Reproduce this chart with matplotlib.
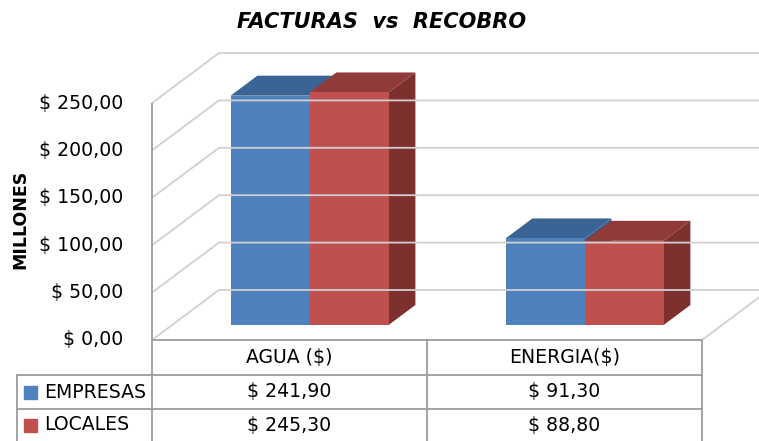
import numpy as np
import matplotlib.pyplot as plt
from matplotlib.patches import Polygon

categories = ['AGUA ($)', 'ENERGIA($)']
series = ['EMPRESAS', 'LOCALES']
empresas = [241.90, 91.30]
locales = [245.30, 88.80]
table_text = [['$ 241,90', '$ 91,30'], ['$ 245,30', '$ 88,80']]
yticks = [0, 50, 100, 150, 200, 250]
ytick_labels = ['$ 0,00', '$ 50,00', '$ 100,00', '$ 150,00', '$ 200,00', '$ 250,00']

front_cols = ['#4F81BD', '#C0504D']
top_cols = ['#3B6496', '#8E3B39']
side_cols = ['#3A5F8B', '#7D302E']
grid_col = '#D0D0D0'
line_col = '#9C9C9C'
fs = 13.6

W, H = 759, 441
fig = plt.figure(figsize=(W / 100, H / 100), dpi=100)

# front plane of the 3d box in pixels: x 152..702, y 340..103
x0, x1, yb, yt = 152, 702, 340, 103
ax = fig.add_axes([x0 / W, 1 - yb / H, (x1 - x0) / W, (yb - yt) / H])
ax.set_xlim(0, 2)
ax.set_ylim(0, 250)
ax.axis('off')

# depth offset (full depth) in pixels -> data units
dpx, dpy = 67, 50
kx = dpx / ((x1 - x0) / 2)
ky = dpy / ((yb - yt) / 250)

def proj(x, v, d):
    return (x + d * kx, v + d * ky)

def line(pts, **kw):
    xs, ys = zip(*pts)
    ax.plot(xs, ys, clip_on=False, solid_capstyle='butt', **kw)

# walls
for v in yticks:
    line([proj(0, v, 0), proj(0, v, 1), proj(2.2, v, 1)], color=grid_col, lw=1.3)
line([proj(2, 0, 0), proj(2, 0, 1)], color=grid_col, lw=1.3)
line([(0, 0), (0, 250)], color=line_col, lw=1.3)
line([(0, 0), (2, 0)], color=line_col, lw=1.3)

lab_x = -(x0 - 123) / ((x1 - x0) / 2)
for v, lab in zip(yticks, ytick_labels):
    ax.text(lab_x, v, lab, ha='right', va='center', fontsize=fs, color='black')

# 3d bars
bw = 0.2873
d0, d1 = 0.3, 0.7
for i in range(len(categories)):
    c = i + 0.5
    for j, vals in enumerate([empresas, locales]):
        h = vals[i]
        xa = c - bw + j * bw
        xb = xa + bw
        side = [proj(xb, 0, d0), proj(xb, 0, d1), proj(xb, h, d1), proj(xb, h, d0)]
        top = [proj(xa, h, d0), proj(xa, h, d1), proj(xb, h, d1), proj(xb, h, d0)]
        front = [proj(xa, 0, d0), proj(xb, 0, d0), proj(xb, h, d0), proj(xa, h, d0)]
        for pts, col in [(side, side_cols[j]), (top, top_cols[j]), (front, front_cols[j])]:
            ax.add_patch(Polygon(pts, closed=True, facecolor=col, edgecolor='none', clip_on=False))

# data table (figure pixel coordinates)
def P(x, y):
    return (x / W, 1 - y / H)

def fline(a, b):
    fig.add_artist(plt.Line2D([a[0] / W, b[0] / W], [1 - a[1] / H, 1 - b[1] / H],
                              color=line_col, lw=1.3))

rows_y = [340, 375, 409, 441]
fline((152, 340), (152, 441))
fline((427, 340), (427, 441))
fline((702, 340), (702, 441))
fline((17, 375), (17, 441))
fline((17, 375), (702, 375))
fline((17, 409), (702, 409))

col_c = [289.5, 564.5]
for k, cat in enumerate(categories):
    fig.text(*P(col_c[k], 358), cat, ha='center', va='center', fontsize=fs)
for r, name in enumerate(series):
    yc = (rows_y[r + 1] + rows_y[r + 2]) / 2
    fig.patches.append(plt.Rectangle(P(24, yc + 6.5), 13 / W, 13 / H,
                                     transform=fig.transFigure, color=front_cols[r]))
    fig.text(*P(44, yc), name, ha='left', va='center', fontsize=fs)
    for k in range(len(categories)):
        fig.text(*P(col_c[k], yc), table_text[r][k], ha='center', va='center', fontsize=fs)

fig.text(*P(382, 22), 'FACTURAS  vs  RECOBRO', ha='center', va='center',
         fontsize=15, fontweight='bold', fontstyle='italic')
fig.text(*P(20, 219), 'MILLONES', ha='center', va='center', rotation=90,
         fontsize=12.5, fontweight='bold')

fig.savefig('out.png', dpi=100)
